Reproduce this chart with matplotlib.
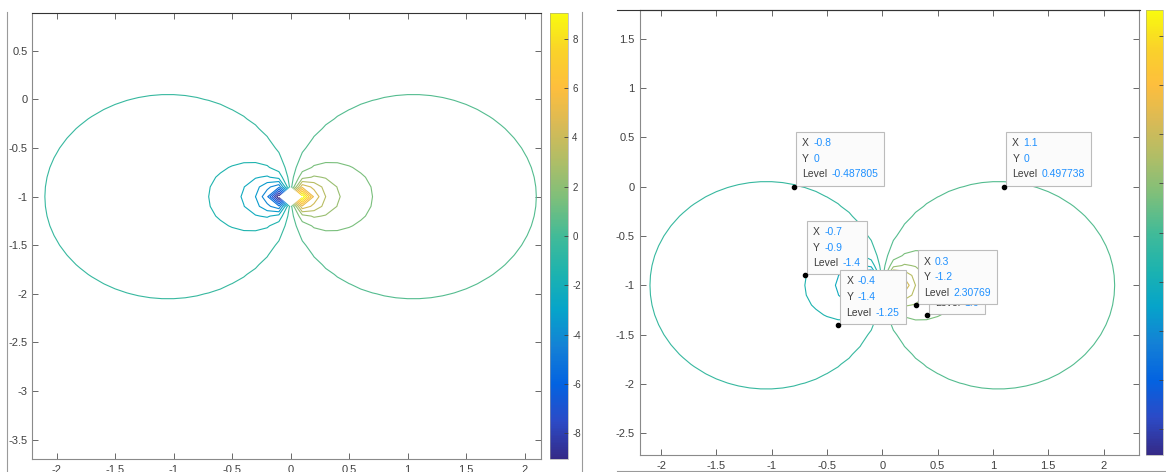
import numpy as np
import matplotlib
matplotlib.use('Agg')
import matplotlib.pyplot as plt
from matplotlib.colors import LinearSegmentedColormap, Normalize
from matplotlib.cm import ScalarMappable
from matplotlib.ticker import FuncFormatter, MultipleLocator
from matplotlib.offsetbox import TextArea, HPacker, VPacker, AnnotationBbox
from matplotlib.lines import Line2D

plt.rcParams['font.family'] = ['Liberation Sans', 'DejaVu Sans']
plt.rcParams['axes.unicode_minus'] = False

# dipole centred at (0, -1), sampled on a 0.1 grid (checked against the data tips)
dipole_x = 0.0
dipole_y = -1.0
grid_step = 0.1
n_levels = 20

# data tips on the right figure
tip_x = [-0.8, 1.1, -0.7, -0.4, 0.4, 0.3]
tip_y = [0, 0, -0.9, -1.4, -1.3, -1.2]
tip_level = ['-0.487805', '0.497738', '-1.4', '-1.25', '1.6', '2.30769']

cbar_ticks = [-8, -6, -4, -2, 0, 2, 4, 6, 8]
xticks = [-2, -1.5, -1, -0.5, 0, 0.5, 1, 1.5, 2]

# parula-like colormap
parula = LinearSegmentedColormap.from_list('parula', [
    (0.2081, 0.1663, 0.5292), (0.1707, 0.2919, 0.7792), (0.0117, 0.3875, 0.8820),
    (0.0779, 0.5040, 0.8384), (0.0231, 0.6418, 0.7913), (0.1133, 0.7015, 0.6859),
    (0.2586, 0.7317, 0.5954), (0.4871, 0.7491, 0.4840), (0.6834, 0.7435, 0.4044),
    (0.8507, 0.7299, 0.3360), (0.9938, 0.7455, 0.2403), (0.9789, 0.8271, 0.1633),
    (0.9763, 0.9831, 0.0538)])

gx = np.round(np.arange(-2.5, 2.5001, grid_step), 1)
gy = np.round(np.arange(-4.0, 2.0001, grid_step), 1)
X, Y = np.meshgrid(gx, gy)
with np.errstate(divide='ignore', invalid='ignore'):
    Z = (X - dipole_x) / ((X - dipole_x) ** 2 + (Y - dipole_y) ** 2)
Z = np.ma.masked_invalid(Z)
levels = np.linspace(Z.min(), Z.max(), n_levels + 2)[1:-1]
norm = Normalize(vmin=levels[0], vmax=levels[-1])

W, H = 1166, 472
fig = plt.figure(figsize=(W / 100, H / 100), dpi=100)


def px(x0, y0, x1, y1):
    return [x0 / W, 1 - y1 / H, (x1 - x0) / W, (y1 - y0) / H]


fmt = FuncFormatter(lambda v, p: '%g' % v)


def style_axes(ax, xlim, ylim, pad_y, pad_x):
    ax.contour(X, Y, Z, levels=levels, cmap=parula, norm=norm, linewidths=0.8)
    ax.set_xlim(*xlim)
    ax.set_ylim(*ylim)
    ax.set_xticks(xticks)
    ax.yaxis.set_major_locator(MultipleLocator(0.5))
    ax.xaxis.set_major_formatter(fmt)
    ax.yaxis.set_major_formatter(fmt)
    ax.tick_params(direction='in', top=True, right=True, length=4, width=0.6,
                   color='#505050', labelcolor='#404040', labelsize=8)
    ax.tick_params(axis='y', pad=pad_y)
    ax.tick_params(axis='x', pad=pad_x)
    for s in ax.spines.values():
        s.set_color('#8a8a8a')
        s.set_linewidth(0.8)
    ax.spines['top'].set_color('#333333')


def style_cbar(cax):
    cb = fig.colorbar(ScalarMappable(norm=norm, cmap=parula), cax=cax)
    cb.set_ticks(cbar_ticks)
    cb.ax.yaxis.set_major_formatter(fmt)
    cb.ax.tick_params(direction='in', length=3, width=0.6, color='#404040',
                      labelcolor='#404040', labelsize=7, pad=3)
    cb.outline.set_linewidth(0.4)
    cb.outline.set_edgecolor('#9a9a9a')


ax1 = fig.add_axes(px(32, 13, 541, 459))
style_axes(ax1, (-2.21, 2.14), (-3.70, 0.89), 3, 4)
cax1 = fig.add_axes(px(550, 13, 568, 459))
style_cbar(cax1)

ax2 = fig.add_axes(px(640, 10, 1139, 455))
style_axes(ax2, (-2.19, 2.32), (-2.72, 1.79), 4, 4)
cax2 = fig.add_axes(px(1146, 10, 1163, 455))
style_cbar(cax2)

# data tips
blue = '#1e90ff'
dark = '#3c3c3c'
box_pad = 0.45
pad_px = box_pad * 10 * 100 / 72
for k in range(len(tip_x)):
    rows = []
    for name, val in (('X', '%g' % tip_x[k]), ('Y', '%g' % tip_y[k]), ('Level', tip_level[k])):
        rows.append(HPacker(children=[
            TextArea(name, textprops=dict(color=dark, fontsize=7.5)),
            TextArea(val, textprops=dict(color=blue, fontsize=7.5))],
            sep=3, align='baseline'))
    box = VPacker(children=rows, sep=4, align='left')
    ab = AnnotationBbox(box, (tip_x[k], tip_y[k]), xybox=(2 + pad_px, 1 + pad_px),
                        xycoords='data', boxcoords='offset pixels', box_alignment=(0, 0),
                        pad=box_pad,
                        bboxprops=dict(facecolor='#fbfbfb', edgecolor='#bcbcbc', lw=0.8),
                        zorder=5 + k)
    ax2.add_artist(ab)
    ax2.plot(tip_x[k], tip_y[k], 'o', color='black', ms=3, zorder=5 + k)

# window edges of the two screenshots
fig.patches.append(plt.Rectangle((583 / W, 0), 29 / W, 1, transform=fig.transFigure,
                                 facecolor='white', edgecolor='none', zorder=10))
for xs, ys, c in [((7, 7), (12, 472), '#9a9a9a'), ((582, 582), (12, 472), '#9a9a9a'),
                  ((617, 1140), (10, 10), '#333333'), ((617, 1166), (471, 471), '#9a9a9a')]:
    fig.add_artist(Line2D([x / W for x in xs], [1 - y / H for y in ys],
                          transform=fig.transFigure, color=c, lw=0.8, zorder=11))

fig.savefig('out.png', dpi=100)
